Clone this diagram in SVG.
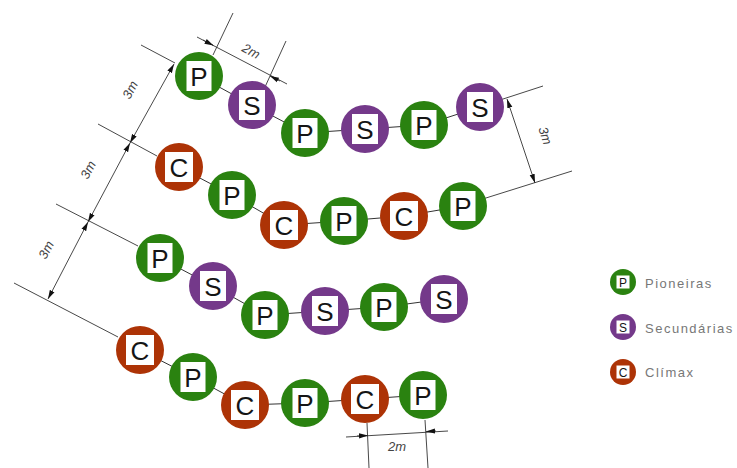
<svg xmlns="http://www.w3.org/2000/svg" width="737" height="468" viewBox="0 0 737 468">
<style>
.c{stroke:#333;stroke-width:1;fill:none}
.d{stroke:#333;stroke-width:.9;fill:none}
.a{marker-start:url(#as);marker-end:url(#ae)}
.P{fill:#2a8210}.S{fill:#74398a}.C{fill:#ad3306}
.b{fill:#fff}
.t{font-family:"Liberation Sans",Arial,sans-serif;font-size:26px;fill:#151515;text-anchor:middle}
.l{font-family:"Liberation Sans",Arial,sans-serif;font-size:13px;fill:#777;letter-spacing:1.5px}
.lt{font-family:"Liberation Sans",Arial,sans-serif;font-size:12px;fill:#151515;text-anchor:middle}
.m{font-family:"Liberation Sans",Arial,sans-serif;font-size:13px;font-style:italic;fill:#444;text-anchor:middle}
</style>
<defs>
<marker id="ae" markerWidth="9" markerHeight="6" refX="9" refY="3" orient="auto" markerUnits="userSpaceOnUse"><path d="M0 .4L9 3L0 5.600z" fill="#111"/></marker>
<marker id="as" markerWidth="9" markerHeight="6" refX="0" refY="3" orient="auto" markerUnits="userSpaceOnUse"><path d="M9 .4L0 3L9 5.600z" fill="#111"/></marker>
<g id="gP"><circle r="24" class="P"/><rect x="-12.5" y="-15" width="25" height="30" class="b"/><text class="t" y="9.500">P</text></g>
<g id="gS"><circle r="24" class="S"/><rect x="-13" y="-15" width="26" height="30" class="b"/><text class="t" y="9.500">S</text></g>
<g id="gC"><circle r="24" class="C"/><rect x="-14" y="-15" width="28" height="30" class="b"/><text class="t" y="9.500">C</text></g>
</defs>
<rect width="737" height="468" fill="#fff"/>
<g id="connectors">
<path class="c" d="M199 76L252 105L305 133L365 129L424 125L480 107"/>
<path class="c" d="M179 167L232 195L284 225L344 221L404 216L463 206"/>
<path class="c" d="M160 258L213 286L265 315L325 311L384 307L444 299"/>
<path class="c" d="M140 350L193 377L245 405L305 403L365 399L423 395"/>
<path class="d" d="M141 45L175 63M98 124L157 156M56 204L138 246M14 283L118 337"/>
<path class="d" d="M197 37L287 84M233 13L213 55M286 41L265 87"/>
<path class="d" d="M500 100L543 86M470 203L572 171"/>
<path class="d" d="M346 437L448 431M367 423L369 468M425 420L428 468"/>
<path class="d a" d="M174 64L130 143"/>
<path class="d a" d="M130 143L88 222"/>
<path class="d a" d="M88 222L48 299"/>
<path class="d a" d="M507 99L535 183"/>
<path class="d" d="M203 40L213.500 45.500" marker-end="url(#ae)"/>
<path class="d" d="M280 81L270 76" marker-end="url(#ae)"/>
<path class="d" d="M357 436L368 435.500" marker-end="url(#ae)"/>
<path class="d" d="M436 431L426 431.500" marker-end="url(#ae)"/>
</g>
<g id="n1"><use href="#gP" x="199" y="76"/></g>
<g id="n2"><use href="#gS" x="252" y="105"/></g>
<g id="n3"><use href="#gP" x="305" y="133"/></g>
<g id="n4"><use href="#gS" x="365" y="129"/></g>
<g id="n5"><use href="#gP" x="424" y="125"/></g>
<g id="n6"><use href="#gS" x="480" y="107"/></g>
<g id="n7"><use href="#gC" x="179" y="167"/></g>
<g id="n8"><use href="#gP" x="232" y="195"/></g>
<g id="n9"><use href="#gC" x="284" y="225"/></g>
<g id="n10"><use href="#gP" x="344" y="221"/></g>
<g id="n11"><use href="#gC" x="404" y="216"/></g>
<g id="n12"><use href="#gP" x="463" y="206"/></g>
<g id="n13"><use href="#gP" x="160" y="258"/></g>
<g id="n14"><use href="#gS" x="213" y="286"/></g>
<g id="n15"><use href="#gP" x="265" y="315"/></g>
<g id="n16"><use href="#gS" x="325" y="311"/></g>
<g id="n17"><use href="#gP" x="384" y="307"/></g>
<g id="n18"><use href="#gS" x="444" y="299"/></g>
<g id="n19"><use href="#gC" x="140" y="350"/></g>
<g id="n20"><use href="#gP" x="193" y="377"/></g>
<g id="n21"><use href="#gC" x="245" y="405"/></g>
<g id="n22"><use href="#gP" x="305" y="403"/></g>
<g id="n23"><use href="#gC" x="365" y="399"/></g>
<g id="n24"><use href="#gP" x="423" y="395"/></g>
<g id="dim-labels">
<text class="m" transform="translate(249 55) rotate(28)">2m</text>
<text class="m" transform="translate(134 92) rotate(-62)">3m</text>
<text class="m" transform="translate(92 172) rotate(-62)">3m</text>
<text class="m" transform="translate(50 252) rotate(-62)">3m</text>
<text class="m" transform="translate(541 137) rotate(72)">3m</text>
<text class="m" transform="translate(397 451)">2m</text>
</g>
<g id="legend-p"><circle cx="623" cy="282" r="13" class="P"/><rect x="616.500" y="275.500" width="13" height="13" class="b"/><text class="lt" x="623" y="286.500">P</text><text class="l" x="645" y="288">Pioneiras</text></g>
<g id="legend-s"><circle cx="623" cy="327" r="13" class="S"/><rect x="616.500" y="320.500" width="13" height="13" class="b"/><text class="lt" x="623" y="331.500">S</text><text class="l" x="645" y="333">Secundárias</text></g>
<g id="legend-c"><circle cx="623" cy="372" r="13" class="C"/><rect x="616.500" y="365.500" width="13" height="13" class="b"/><text class="lt" x="623" y="376.500">C</text><text class="l" x="645" y="377">Clímax</text></g>
</svg>
